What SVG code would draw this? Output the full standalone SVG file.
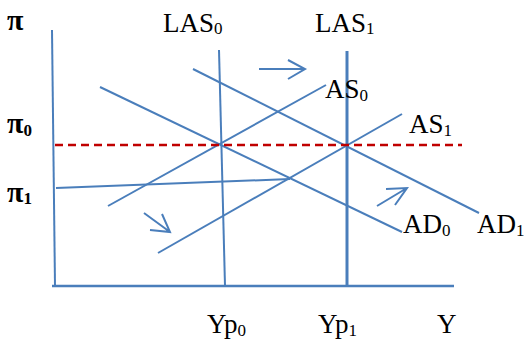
<svg xmlns="http://www.w3.org/2000/svg" width="525" height="339" viewBox="0 0 525 339">
<style>
.ln{stroke:#4A7EBB;stroke-width:2;fill:none}
.thk{stroke-width:3}
.dash{stroke:#C00000;stroke-width:2.5;stroke-dasharray:8 5;fill:none}
.t{font-family:"Liberation Serif","Times New Roman",serif;font-size:27px;fill:#000}
.b{font-weight:bold;font-size:30px}
.s{font-size:17px}
</style>
<rect width="525" height="339" fill="#fff"/>
<g id="axes">
<path class="ln" d="M52,30 L55,286"/>
<path class="ln" style="stroke-width:2.5" d="M52,286 L454,286"/>
</g>
<g id="LAS0"><path class="ln" d="M219,50 L225,286"/><text class="t" x="163" y="32">LAS<tspan class="s" dy="2">0</tspan></text></g>
<g id="LAS1"><path class="ln thk" d="M347,51 L347,286"/><text class="t" x="315" y="32">LAS<tspan class="s" dy="2">1</tspan></text></g>
<g id="AD0"><path class="ln" d="M100,87 L402,232"/><text class="t" x="403" y="233">AD<tspan class="s" dy="3">0</tspan></text></g>
<g id="AD1"><path class="ln" d="M193,69 L479,213"/><text class="t" x="477" y="233">AD<tspan class="s" dy="3">1</tspan></text></g>
<g id="AS0"><path class="ln" d="M108,206 L326,85"/><text class="t" x="325" y="98">AS<tspan class="s" dy="3">0</tspan></text></g>
<g id="AS1"><path class="ln" d="M158,253 L402,114"/><text class="t" x="409" y="133">AS<tspan class="s" dy="3">1</tspan></text></g>
<g id="pi1line"><path class="ln" d="M56,188 L290,179"/></g>
<g id="pi0line"><path class="dash" d="M55,145 L462,145"/></g>
<g id="labels">
<text class="t b" x="7" y="30">π</text>
<text class="t b" x="7" y="133">π<tspan class="s" dy="3">0</tspan></text>
<text class="t b" x="7" y="202">π<tspan class="s" dy="2">1</tspan></text>
<text class="t" x="207" y="333">Yp<tspan class="s" dy="3">0</tspan></text>
<text class="t" x="318" y="333">Yp<tspan class="s" dy="3">1</tspan></text>
<text class="t" x="437" y="333">Y</text>
</g>
<g id="connectors">
<path class="ln" d="M259,69 L305,69 M288,60 L305,69 L288,79"/>
<path class="ln" d="M144,213 L170,232 M150,230 L170,232 L162,214"/>
<path class="ln" d="M377,206 L407,188 M386,189 L407,188 L395,205"/>
</g>
</svg>
